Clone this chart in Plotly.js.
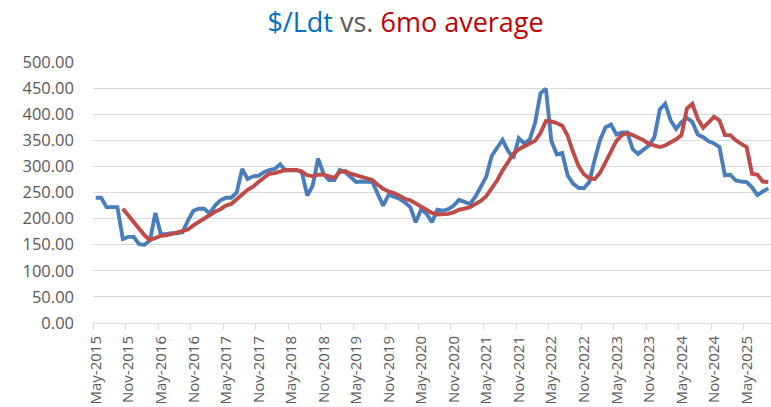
<!DOCTYPE html>
<html>
<head>
<meta charset="utf-8">
<script src="https://cdn.plot.ly/plotly-3.0.1.min.js"></script>
<style>html,body{margin:0;padding:0;background:#fff;}#chart{width:771px;height:407px;}</style>
</head>
<body>
<div id="chart"></div>
<script>
// Monthly, May-2015 .. Sep-2025
const startYear = 2015, startMonth = 4; // May (0-based)
const pricePerLdt = [
  240,240,222,222,222,161,165,165,151,150,158,211,170,170,172,172,174,196,215,219,
  219,210,225,235,240,240,250,295,276,281,282,289,293,295,304,292,293,293,289,244,
  263,315,286,274,274,293,289,279,270,271,271,270,247,225,246,242,238,231,222,193,
  218,209,193,217,215,218,225,236,231,228,242,260,280,320,335,351,330,316,354,344,
  351,383,440,449,349,323,326,283,267,259,258,270,313,351,375,380,361,365,365,333,
  324,333,340,356,409,420,388,372,385,393,385,361,356,348,344,337,283,284,273,271,
  270,260,245,252,258
];
const avg6mo = [
  null,null,null,null,null,219,206,193,181,168,159,164,167,168,171,174,176,179,187,194,
  201,206,213,218,225,228,236,246,255,261,270,278,286,287,291,293,293,293,290,283,
  281,284,284,281,278,289,291,286,283,280,278,274,265,257,252,249,244,238,235,229,
  225,219,211,208,208,209,212,217,219,222,228,234,243,258,273,292,309,324,333,338,
  342,349,364,387,386,383,378,359,328,301,285,277,276,288,308,329,349,360,364,360,
  356,350,343,340,337,340,345,352,360,411,420,391,374,385,395,388,360,360,350,343,
  337,286,284,271,270
];
const tickLabels = ["May-2015","Nov-2015","May-2016","Nov-2016","May-2017","Nov-2017","May-2018",
  "Nov-2018","May-2019","Nov-2019","May-2020","Nov-2020","May-2021","Nov-2021","May-2022",
  "Nov-2022","May-2023","Nov-2023","May-2024","Nov-2024","May-2025"];

const monNames = ["Jan","Feb","Mar","Apr","May","Jun","Jul","Aug","Sep","Oct","Nov","Dec"];
const idx = pricePerLdt.map((_, i) => i);
const monthLabels = idx.map(i => {
  const m = startMonth + i;
  return monNames[m % 12] + "-" + (startYear + Math.floor(m / 12));
});
const tickPos = tickLabels.map((_, k) => k * 6 - 0.5);

const font = "Open Sans, Liberation Sans, sans-serif";
const traces = [
  {x: idx, y: pricePerLdt, text: monthLabels, type: "scatter", mode: "lines", name: "$/Ldt",
   line: {color: "#4A7EBB", width: 3.9}, hovertemplate: "%{text}: %{y:.2f}<extra></extra>"},
  {x: idx, y: avg6mo, text: monthLabels, type: "scatter", mode: "lines", name: "6mo average",
   line: {color: "#BE4B48", width: 3.9}, connectgaps: false, hovertemplate: "%{text}: %{y:.2f}<extra></extra>"}
];
const layout = {
  width: 771, height: 407,
  margin: {l: 93, r: 0, t: 62, b: 84, pad: 0},
  paper_bgcolor: "#fff", plot_bgcolor: "#fff",
  showlegend: false,
  font: {family: font, color: "#595959", size: 15},
  title: {
    text: '<span style="color:#0070C0">$/Ldt</span> <span style="color:#595959">vs.</span> <span style="color:#C00000">6mo average</span>',
    font: {family: font, size: 27},
    x: 0.526, xref: "container", xanchor: "center",
    y: 0.945, yref: "container", yanchor: "middle"
  },
  xaxis: {
    range: [-0.5, 124.5], tickmode: "array", tickvals: tickPos, ticktext: tickLabels,
    tickangle: -90, ticks: "outside", ticklen: 6, tickcolor: "#D9D9D9", tickwidth: 1,
    ticklabelshift: 3,
    showline: true, linecolor: "#D9D9D9", linewidth: 1, showgrid: false, zeroline: false,
    tickfont: {family: font, size: 15, color: "#595959"}
  },
  yaxis: {
    range: [0, 500], tickmode: "linear", tick0: 0, dtick: 50, tickformat: ".2f",
    showgrid: true, gridcolor: "#D9D9D9", gridwidth: 1, zeroline: false, showline: false,
    ticks: "", ticklabelstandoff: 18,
    tickfont: {family: font, size: 16.5, color: "#595959"}
  }
};
Plotly.newPlot("chart", traces, layout, {displayModeBar: false, staticPlot: true});
</script>
</body>
</html>
